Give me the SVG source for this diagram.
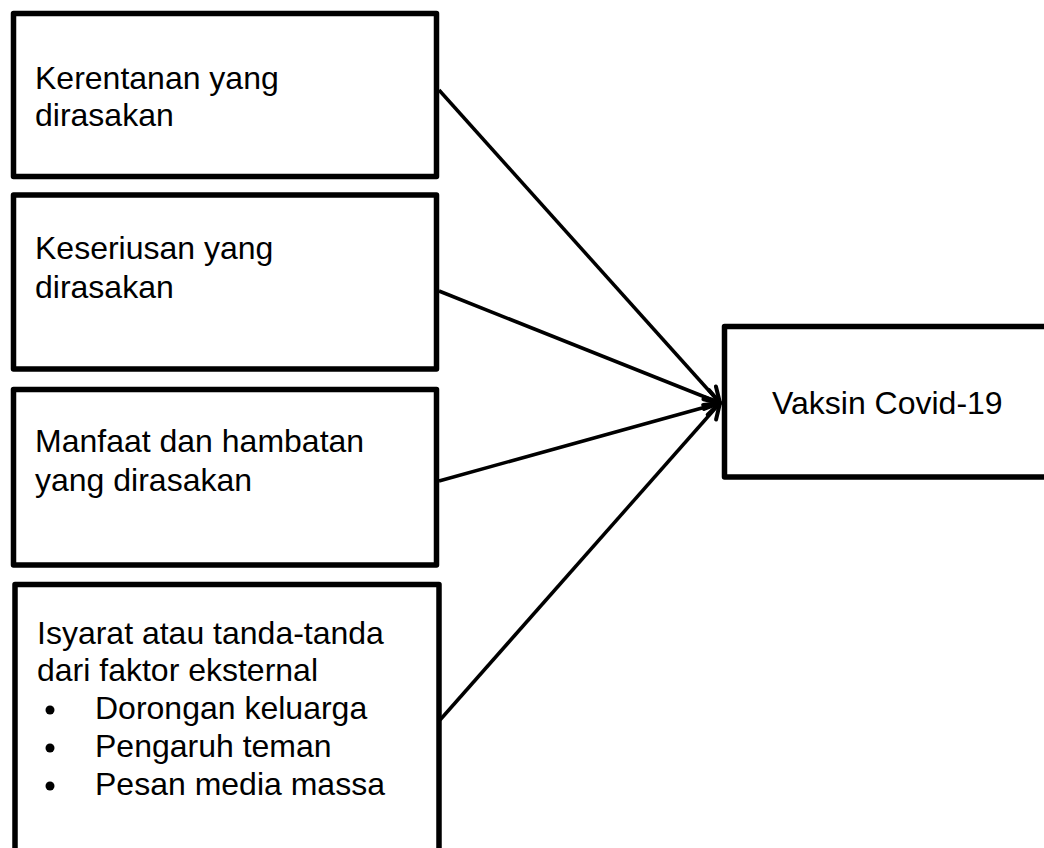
<svg xmlns="http://www.w3.org/2000/svg" width="1044" height="848" viewBox="0 0 1044 848">
  <style>
    .box { fill: #ffffff; stroke: #000000; stroke-width: 5.5; stroke-linejoin: round; }
    .lbl { font-family: "Liberation Sans", Arial, sans-serif; font-size: 32px; fill: #000000; }
    .conn { stroke: #000000; stroke-width: 3.5; fill: none; }
  </style>
  <defs>
    <marker id="arr" markerUnits="userSpaceOnUse" markerWidth="22" markerHeight="22" viewBox="0 0 22 22" refX="18" refY="11" orient="auto">
      <path d="M3,3 L18,11 L3,19" fill="none" stroke="#000000" stroke-width="4" stroke-linecap="round" stroke-linejoin="round"/>
    </marker>
  </defs>
  <rect width="1044" height="848" fill="#ffffff"/>

  <g id="node-kerentanan">
    <rect class="box" x="13.5" y="13.5" width="423" height="163"/>
    <text class="lbl" x="35" y="89">Kerentanan yang</text>
    <text class="lbl" x="35" y="126">dirasakan</text>
  </g>

  <g id="node-keseriusan">
    <rect class="box" x="13.5" y="195" width="423" height="174"/>
    <text class="lbl" x="35" y="259">Keseriusan yang</text>
    <text class="lbl" x="35" y="298">dirasakan</text>
  </g>

  <g id="node-manfaat">
    <rect class="box" x="13.5" y="389.5" width="423" height="175.5"/>
    <text class="lbl" x="35" y="452">Manfaat dan hambatan</text>
    <text class="lbl" x="35" y="491">yang dirasakan</text>
  </g>

  <g id="node-isyarat">
    <rect class="box" x="15" y="584.5" width="424" height="280"/>
    <text class="lbl" x="37" y="644">Isyarat atau tanda-tanda</text>
    <text class="lbl" x="37" y="681">dari faktor eksternal</text>
    <circle cx="50" cy="710" r="4.5" fill="#000000"/>
    <text class="lbl" x="95" y="719">Dorongan keluarga</text>
    <circle cx="50" cy="748" r="4.5" fill="#000000"/>
    <text class="lbl" x="95" y="757">Pengaruh teman</text>
    <circle cx="50" cy="786" r="4.5" fill="#000000"/>
    <text class="lbl" x="95" y="795">Pesan media massa</text>
  </g>

  <g id="node-vaksin">
    <rect class="box" x="724.5" y="326.5" width="330" height="150.5"/>
    <text class="lbl" x="772" y="414">Vaksin Covid-19</text>
  </g>

  <g id="connectors">
    <line class="conn" x1="439" y1="90" x2="720" y2="403" marker-end="url(#arr)"/>
    <line class="conn" x1="439" y1="291" x2="720" y2="403" marker-end="url(#arr)"/>
    <line class="conn" x1="439" y1="481" x2="720" y2="403" marker-end="url(#arr)"/>
    <line class="conn" x1="440" y1="720" x2="720" y2="403" marker-end="url(#arr)"/>
  </g>
</svg>
